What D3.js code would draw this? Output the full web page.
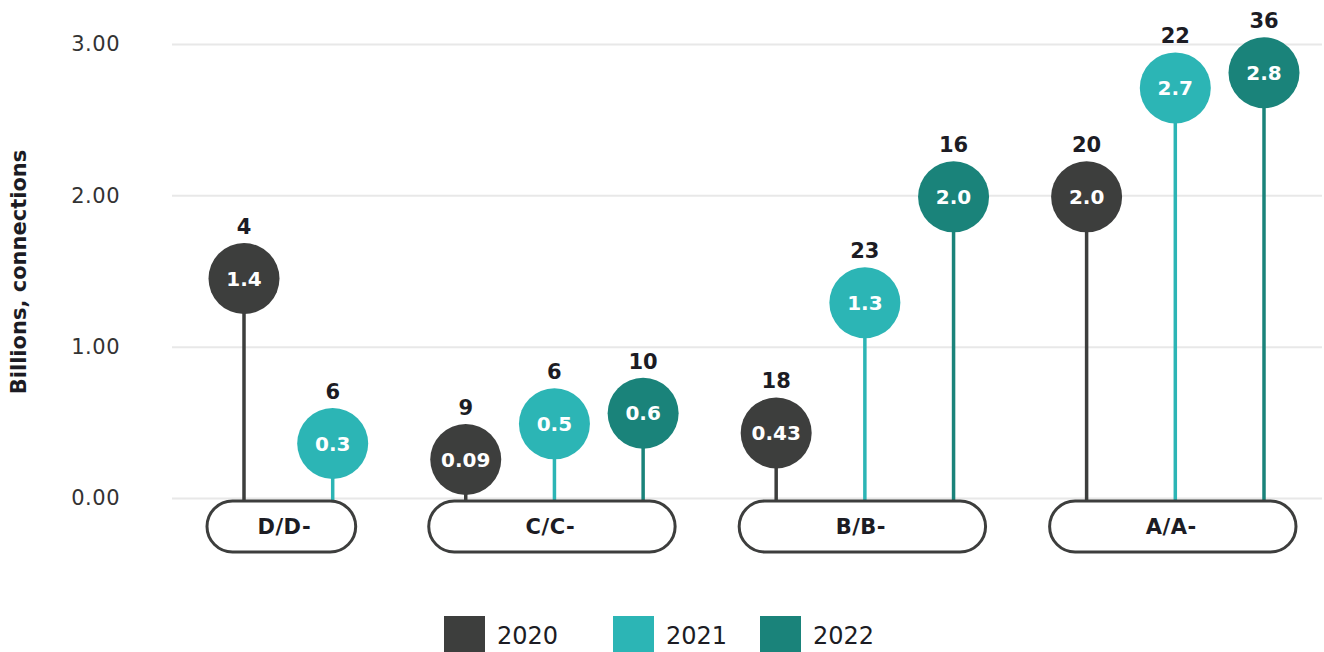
<!DOCTYPE html>
<html lang="en">
<head>
<meta charset="UTF-8">
<title>Connections by rating</title>
<style>
    body { margin:0; background:#fff; }
    svg { display:block; font-family: "DejaVu Sans", "Open Sans", sans-serif; }
    .grid line { stroke:#e8e8e8; stroke-width:2; }
    .grid path { display:none; }
    .yaxis text { font-size:21px; fill:#333; font-weight:400; letter-spacing:0.5px; font-family: "DejaVu Sans", sans-serif; }
    .yaxis path, .yaxis line { display:none; }
</style>
</head>
<body>
<script src="https://cdn.jsdelivr.net/npm/d3@7"></script>
<script>
    var categories = ["D/D-", "C/C-", "B/B-", "A/A-"];
    var years = ["2020", "2021", "2022"];
    var colors = ["#3d3e3d", "#2cb5b5", "#1a837a"];

    // plotted value (billions) and the label shown in the circle
    var values2020 = [1.45, 0.09, 0.43, 1.99];
    var values2021 = [0.36, 0.49, 1.29, 2.71];
    var values2022 = [null, 0.56, 1.99, 2.81];
    var labels2020 = ["1.4", "0.09", "0.43", "2.0"];
    var labels2021 = ["0.3", "0.5", "1.3", "2.7"];
    var labels2022 = [null, "0.6", "2.0", "2.8"];
    // number above each circle
    var counts2020 = [4, 9, 18, 20];
    var counts2021 = [6, 6, 23, 22];
    var counts2022 = [null, 10, 16, 36];

    var yTicks = [0, 1, 2, 3];

    var w = 1324, h = 652;
    var r = 35.5;

    var svg = d3.select("body").append("svg").attr("width", w).attr("height", h);

    var yScale = d3.scaleLinear().domain([0, 3]).range([498, 44]);

    // build points: each present value takes a slot, groups separated by half a slot
    var allVals = [values2020, values2021, values2022];
    var allLabels = [labels2020, labels2021, labels2022];
    var allCounts = [counts2020, counts2021, counts2022];
    var points = [];
    var groups = [];
    var slot = 0;
    categories.forEach(function (c, gi) {
        var g = {cat: c, first: null, last: null};
        for (var s = 0; s < years.length; s++) {
            if (allVals[s][gi] == null) continue;
            var pos = slot + gi * 0.5;
            points.push({cat: c, s: s, v: allVals[s][gi], label: allLabels[s][gi], n: allCounts[s][gi], pos: pos});
            if (g.first === null) g.first = pos;
            g.last = pos;
            slot++;
        }
        groups.push(g);
    });
    var maxPos = d3.max(points, function (d) { return d.pos; });
    var xScale = d3.scaleLinear().domain([0, maxPos]).range([244, 1264]);

    // gridlines
    svg.append("g").attr("class", "grid")
        .attr("transform", "translate(172,0)")
        .call(d3.axisLeft(yScale).tickValues(yTicks).tickSize(-1150).tickFormat(""));

    // y axis labels
    svg.append("g").attr("class", "yaxis")
        .attr("transform", "translate(120,0)")
        .call(d3.axisLeft(yScale).tickValues(yTicks).tickSize(0).tickPadding(0).tickFormat(d3.format(".2f")));

    svg.append("text")
        .attr("transform", "translate(26," + (yScale(1.5) + 1) + ") rotate(-90)")
        .attr("text-anchor", "middle")
        .attr("font-size", "21px")
        .attr("font-weight", 700)
        .attr("fill", "#1c1c24")
        .text("Billions, connections");

    function cy(d) {
        return Math.min(yScale(d.v), yScale(0) - r - 3);
    }

    // stems
    svg.selectAll("line.stem")
        .data(points)
        .enter()
        .append("line")
        .attr("class", "stem")
        .attr("x1", function (d) { return xScale(d.pos); })
        .attr("x2", function (d) { return xScale(d.pos); })
        .attr("y1", yScale(0) + 2)
        .attr("y2", function (d) { return cy(d); })
        .attr("stroke", function (d) { return colors[d.s]; })
        .attr("stroke-width", 3.5);

    // category pills
    var pill = svg.selectAll("g.pill")
        .data(groups)
        .enter()
        .append("g")
        .attr("class", "pill");
    pill.append("rect")
        .attr("x", function (d) { return xScale(d.first) - 37; })
        .attr("y", 501)
        .attr("width", function (d) { return xScale(d.last) - xScale(d.first) + (d.last - d.first > 1 ? 69 : 60); })
        .attr("height", 51)
        .attr("rx", 25.5)
        .attr("fill", "#fff")
        .attr("stroke", "#3d3e3d")
        .attr("stroke-width", 3);
    pill.append("text")
        .attr("x", function (d) { return (xScale(d.first) + xScale(d.last)) / 2 - 4; })
        .attr("y", 534)
        .attr("text-anchor", "middle")
        .attr("font-size", "21px")
        .attr("font-weight", 700)
        .attr("letter-spacing", "0.5px")
        .attr("fill", "#1c1c24")
        .text(function (d) { return d.cat; });

    // circles
    svg.selectAll("circle.dot")
        .data(points)
        .enter()
        .append("circle")
        .attr("class", "dot")
        .attr("cx", function (d) { return xScale(d.pos); })
        .attr("cy", function (d) { return cy(d); })
        .attr("r", r)
        .attr("fill", function (d) { return colors[d.s]; });

    svg.selectAll("text.val")
        .data(points)
        .enter()
        .append("text")
        .attr("class", "val")
        .attr("x", function (d) { return xScale(d.pos); })
        .attr("y", function (d) { return cy(d) + 7; })
        .attr("text-anchor", "middle")
        .attr("font-size", "20px")
        .attr("font-weight", 700)
        .attr("fill", "#fff")
        .text(function (d) { return d.label; });

    svg.selectAll("text.count")
        .data(points)
        .enter()
        .append("text")
        .attr("class", "count")
        .attr("x", function (d) { return xScale(d.pos); })
        .attr("y", function (d) { return cy(d) - r - 9; })
        .attr("text-anchor", "middle")
        .attr("font-size", "21px")
        .attr("font-weight", 700)
        .attr("fill", "#1c1c24")
        .text(function (d) { return d.n; });

    // legend
    var legendX = [444, 613, 760];
    var legend = svg.selectAll("g.legend")
        .data(years)
        .enter()
        .append("g")
        .attr("class", "legend")
        .attr("transform", function (d, i) { return "translate(" + legendX[i] + ",616)"; });
    legend.append("rect")
        .attr("width", 41)
        .attr("height", 40)
        .attr("fill", function (d, i) { return colors[i]; });
    legend.append("text")
        .attr("x", 53)
        .attr("y", 28)
        .attr("font-size", "24px")
        .attr("fill", "#1c1c24")
        .text(function (d) { return d; });
</script>
</body>
</html>
